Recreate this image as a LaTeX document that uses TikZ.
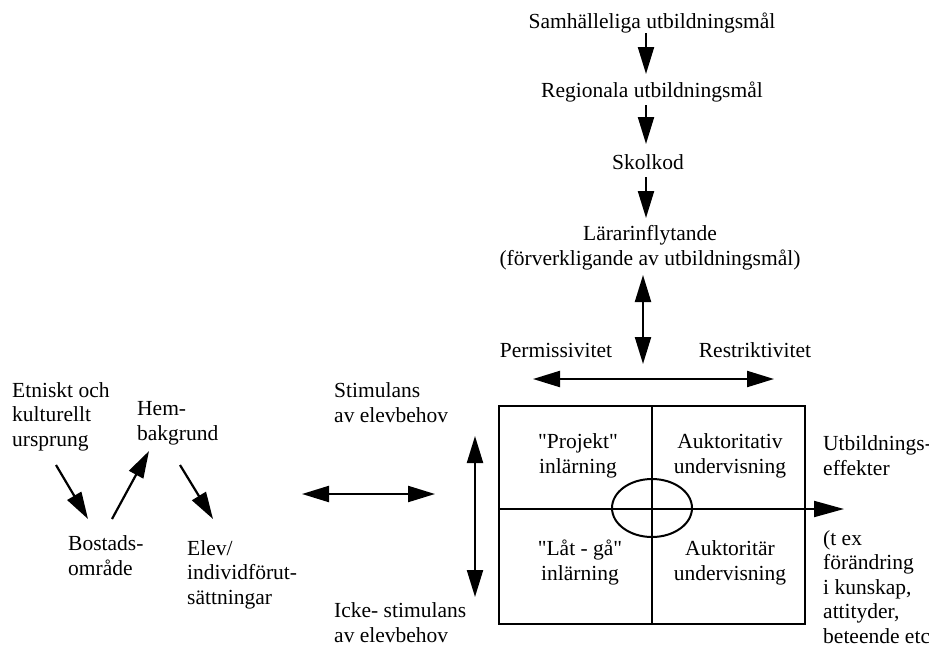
\documentclass[tikz,border=0pt]{standalone}
\usepackage{fontspec}
\setmainfont{Liberation Serif}
\usetikzlibrary{arrows.meta,shapes.geometric}
\begin{document}
\begin{tikzpicture}[x=1pt,y=-1pt,
  lbl/.style={inner sep=0pt, font=\fontsize{21.5}{24.5}\selectfont},
  arr/.style={line width=2.2pt, -{Triangle[length=27pt,width=16pt]}},
  darr/.style={line width=2.2pt, {Triangle[length=27pt,width=16pt]}-{Triangle[length=27pt,width=16pt]}},
  frame/.style={line width=2.5pt},
  inner/.style={line width=2pt}
]
\useasboundingbox (0,0) rectangle (929,646);

% top chain
\node[lbl,anchor=base] (sam) at (652,28) {Samhälleliga utbildningsmål};
\node[lbl,anchor=base] (reg) at (652,97) {Regionala utbildningsmål};
\node[lbl,anchor=base] (sko) at (648,169) {Skolkod};
\node[lbl,anchor=base,align=center] (lar) at (650,265) {Lärarinflytande\\(förverkligande av utbildningsmål)};
\node[lbl,anchor=base] (perm) at (556,357) {Permissivitet};
\node[lbl,anchor=base] (restr) at (755,357) {Restriktivitet};

\coordinate (c1a) at (646,33);  \coordinate (c1b) at (646,74);
\coordinate (c2a) at (646,105); \coordinate (c2b) at (646,144);
\coordinate (c3a) at (646,177); \coordinate (c3b) at (646,218);
\coordinate (v1a) at (643,275); \coordinate (v1b) at (643,364);
\coordinate (h1a) at (533,379); \coordinate (h1b) at (774,379);
\draw[arr] (c1a) -- (c1b);
\draw[arr] (c2a) -- (c2b);
\draw[arr] (c3a) -- (c3b);
\draw[darr] (v1a) -- (v1b);
\draw[darr] (h1a) -- (h1b);

% box
\coordinate (bTL) at (499,406); \coordinate (bBR) at (805,624);
\coordinate (bT) at (652,406); \coordinate (bB) at (652,624);
\coordinate (bL) at (499,509); \coordinate (tip) at (844,509);
\draw[frame] (bTL) rectangle (bBR);
\draw[inner] (bT) -- (bB);
\draw[inner, -{Triangle[length=30pt,width=16pt]}] (bL) -- (tip);
\node[draw, inner, ellipse, minimum width=80pt, minimum height=58pt, inner sep=0pt] (ell) at (652,508) {};

\node[lbl,anchor=base,align=center] (proj) at (578,473) {\textquotedbl Projekt\textquotedbl\\inlärning};
\node[lbl,anchor=base,align=center] (aukt1) at (730,473) {Auktoritativ\\undervisning};
\node[lbl,anchor=base,align=center] (lat) at (580,580) {\textquotedbl Låt - gå\textquotedbl\\inlärning};
\node[lbl,anchor=base,align=center] (aukt2) at (730,580) {Auktoritär\\undervisning};

% effects
\node[lbl,anchor=base west,align=left] (eff) at (823,475) {Utbildnings-\\effekter};
\node[lbl,anchor=base west,align=left] (tex) at (823,643) {(t ex\\förändring\\i kunskap,\\attityder,\\beteende etc};

% stimulans
\node[lbl,anchor=base west,align=left] (stim) at (334,422) {Stimulans\\av elevbehov};
\node[lbl,anchor=base west,align=left] (icke) at (334,642) {Icke- stimulans\\av elevbehov};
\coordinate (h2a) at (302,494); \coordinate (h2b) at (435,494);
\coordinate (v2a) at (475,436); \coordinate (v2b) at (475,597);
\draw[darr] (h2a) -- (h2b);
\draw[darr] (v2a) -- (v2b);

% left cluster
\node[lbl,anchor=base west,align=left] (etn) at (12,446) {Etniskt och\\kulturellt\\ursprung};
\node[lbl,anchor=base west,align=left] (hem) at (137,440) {Hem-\\bakgrund};
\node[lbl,anchor=base west,align=left] (bost) at (68,575) {Bostads-\\område};
\node[lbl,anchor=base west,align=left] (elev) at (187,604) {Elev/\\individförut-\\sättningar};
\coordinate (d1a) at (56,465);  \coordinate (d1b) at (88,519);
\coordinate (d2a) at (112,519); \coordinate (d2b) at (149,451);
\coordinate (d3a) at (180,465); \coordinate (d3b) at (213,519);
\draw[arr] (d1a) -- (d1b);
\draw[arr] (d2a) -- (d2b);
\draw[arr] (d3a) -- (d3b);
\end{tikzpicture}
\end{document}
